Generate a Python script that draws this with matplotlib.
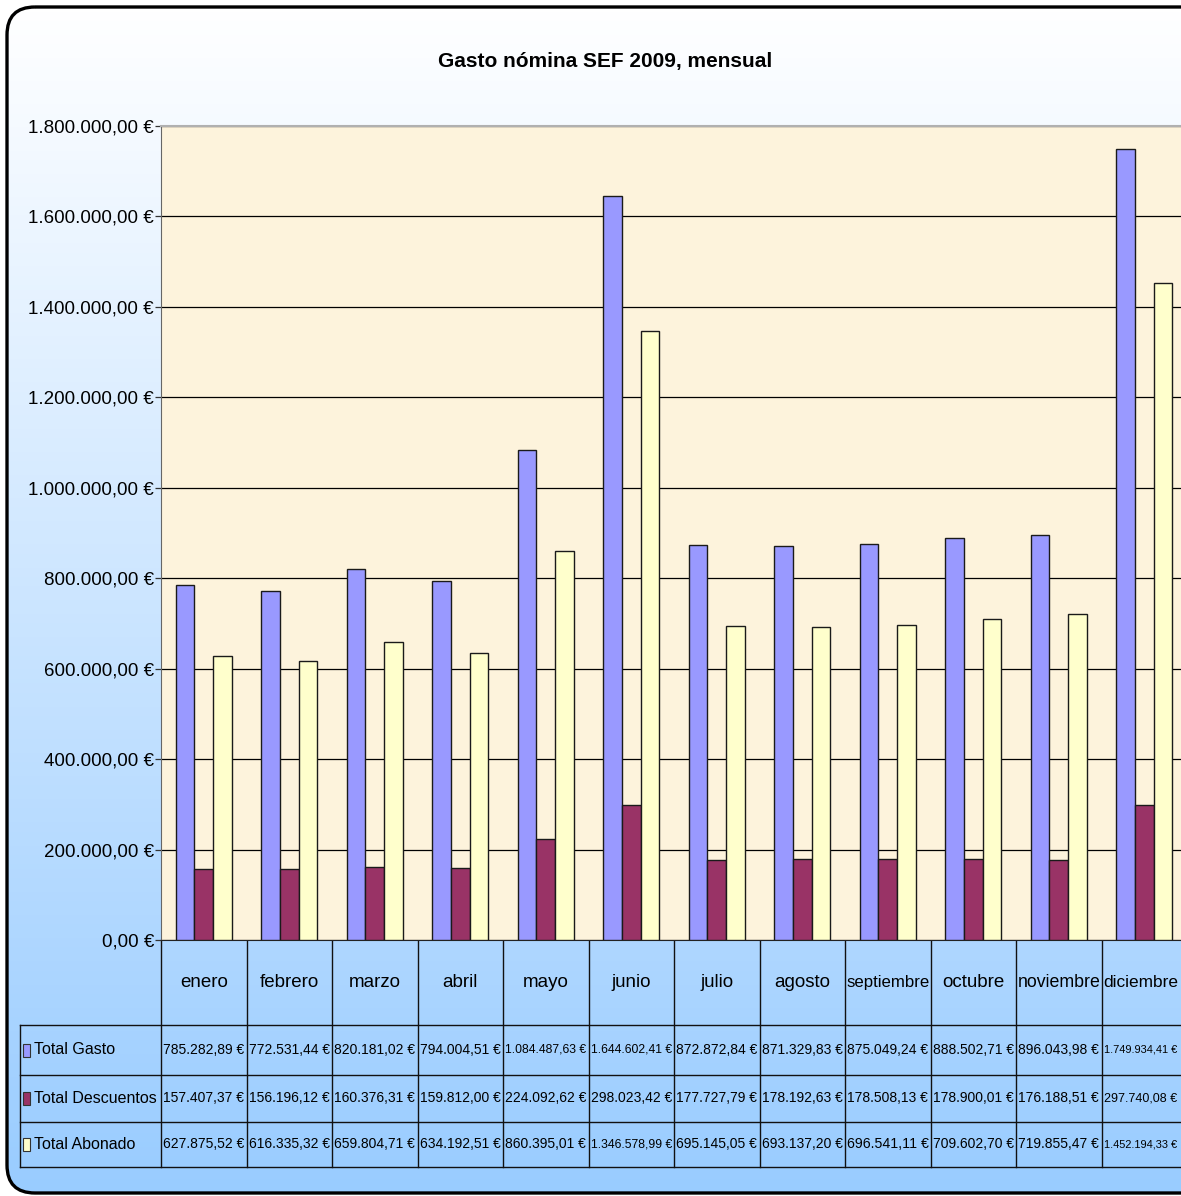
import matplotlib
matplotlib.use("Agg")
import matplotlib.pyplot as plt
from matplotlib.patches import FancyBboxPatch, Rectangle
from matplotlib.ticker import FuncFormatter, MultipleLocator
import numpy as np

plt.rcParams['font.family'] = ['Liberation Sans', 'DejaVu Sans']

# data
months = ["enero", "febrero", "marzo", "abril", "mayo", "junio", "julio",
          "agosto", "septiembre", "octubre", "noviembre", "diciembre"]
total_gasto = [785282.89, 772531.44, 820181.02, 794004.51, 1084487.63, 1644602.41,
               872872.84, 871329.83, 875049.24, 888502.71, 896043.98, 1749934.41]
total_descuentos = [157407.37, 156196.12, 160376.31, 159812.00, 224092.62, 298023.42,
                    177727.79, 178192.63, 178508.13, 178900.01, 176188.51, 297740.08]
total_abonado = [627875.52, 616335.32, 659804.71, 634192.51, 860395.01, 1346578.99,
                 695145.05, 693137.20, 696541.11, 709602.70, 719855.47, 1452194.33]
series = [("Total Gasto", total_gasto, "#9999ff"),
          ("Total Descuentos", total_descuentos, "#993366"),
          ("Total Abonado", total_abonado, "#ffffcc")]
title = "Gasto nómina SEF 2009, mensual"


def euro(v):
    s = f"{v:,.2f}"
    s = s.replace(",", "X").replace(".", ",").replace("X", ".")
    return s + " €"


W, H = 1181, 1196
fig = plt.figure(figsize=(W / 100, H / 100), dpi=100)
renderer = fig.canvas.get_renderer()

# background axes in pixel coordinates
bg = fig.add_axes([0, 0, 1, 1], zorder=0)
bg.set_xlim(0, W)
bg.set_ylim(H, 0)
bg.axis("off")

frame = FancyBboxPatch((7, 7), 1230, 1186, boxstyle="round,pad=0,rounding_size=28",
                       facecolor="none", edgecolor="black", lw=2.4, zorder=3)
bg.add_patch(frame)
grad = np.linspace(0, 1, 256)[:, None]
c0 = np.array([1.0, 1.0, 1.0])
c1 = np.array([0x99, 0xcc, 0xff]) / 255
img = c0[None, None, :] * (1 - grad[..., None]) + c1[None, None, :] * grad[..., None]
im = bg.imshow(img, extent=[7, 1237, 1193, 7], aspect="auto", zorder=1)
im.set_clip_path(frame)

bg.text(605, 62, title, ha="center", va="center", fontsize=15,
        fontweight="bold", zorder=5)

# main chart area
x0, x1, ytop, ybot = 161, 1187, 126, 940
ax = fig.add_axes([x0 / W, 1 - ybot / H, (x1 - x0) / W, (ybot - ytop) / H], zorder=2)
ax.set_facecolor("#fdf3dc")
n = len(months)
x = np.arange(n)
bw = 0.217
for k, (name, vals, col) in enumerate(series):
    ax.bar(x + (k - 1) * bw, vals, width=bw, color=col, edgecolor="#1a1a1a",
           lw=1.0, zorder=3)
ax.set_xlim(-0.5, n - 0.5)
ax.set_ylim(0, 1800000)
ax.yaxis.set_major_locator(MultipleLocator(200000))
ax.yaxis.set_major_formatter(FuncFormatter(lambda v, p: euro(v)))
ax.grid(axis="y", color="black", lw=0.9, zorder=1)
ax.set_xticks([])
ax.tick_params(axis="y", length=4, width=0.9, color="#333333", labelsize=13.5, pad=1)
ax.spines["right"].set_visible(False)
ax.spines["top"].set_color("#b0b0b0")
ax.spines["top"].set_linewidth(1.5)
ax.spines["left"].set_color("#666666")
ax.spines["bottom"].set_color("#222222")

# data table under the chart
cw = (x1 - x0) / n
rows_y = [1025, 1075, 1122, 1167]
lc = "#111111"
for i in range(n + 1):
    bg.plot([x0 + i * cw] * 2, [ybot, rows_y[-1]], color=lc, lw=1.0, zorder=4)
for yy in rows_y:
    bg.plot([20, W + 10], [yy, yy], color=lc, lw=1.0, zorder=4)
bg.plot([20, 20], [rows_y[0], rows_y[-1]], color=lc, lw=1.0, zorder=4)


def fit_text(xc, yc, s, avail, size):
    t = bg.text(xc, yc, s, ha="center", va="center", fontsize=size, zorder=5)
    w = t.get_window_extent(renderer).width
    if w > avail:
        t.set_fontsize(size * avail / w)
    return t


for i, m in enumerate(months):
    cl = x0 + i * cw
    cr = min(cl + cw, W - 2)
    fit_text((cl + cr) / 2, (ybot + rows_y[0]) / 2, m, cr - cl - 3, 13.5)

for r, (name, vals, col) in enumerate(series):
    yc = (rows_y[r] + rows_y[r + 1]) / 2
    bg.add_patch(Rectangle((23, yc - 6.5), 7, 13, facecolor=col,
                           edgecolor="#333333", lw=0.8, zorder=5))
    bg.text(34, yc, name, ha="left", va="center", fontsize=11.5, zorder=5)
    for i, v in enumerate(vals):
        cl = x0 + i * cw
        cr = min(cl + cw, W - 2)
        fit_text((cl + cr) / 2, yc, euro(v), cr - cl - 4, 10.5)

fig.savefig("out.png", dpi=100)
